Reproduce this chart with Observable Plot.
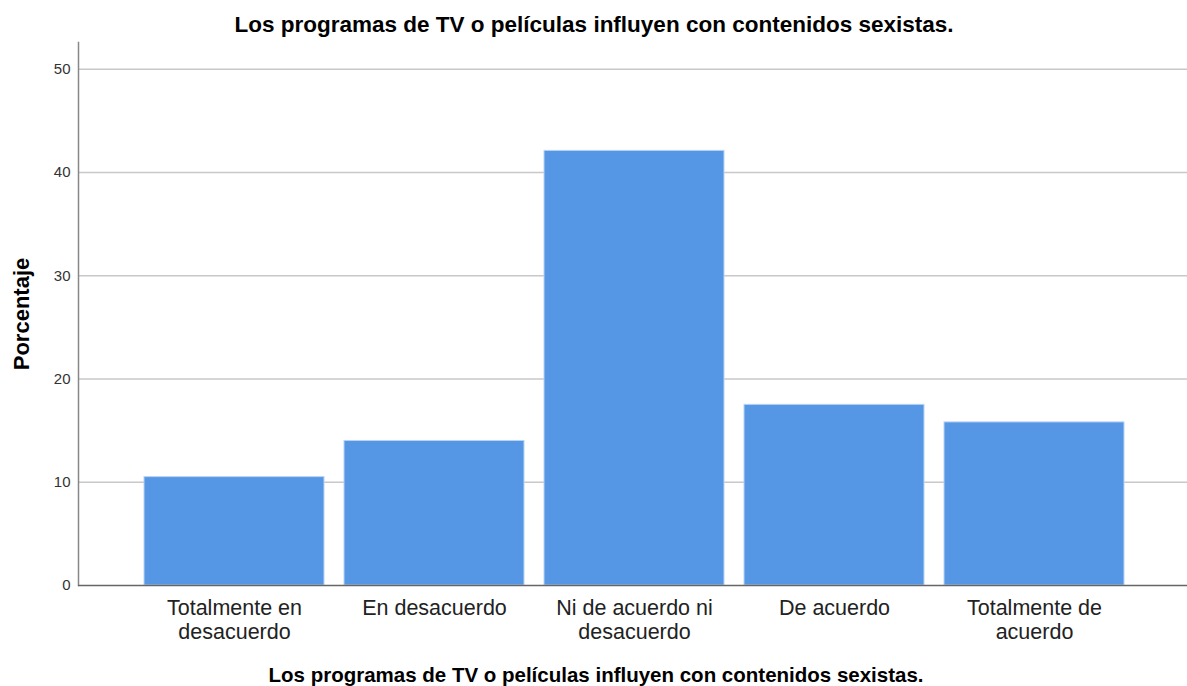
<!DOCTYPE html>
<html>
<head>
<meta charset="utf-8">
<script src="https://cdn.jsdelivr.net/npm/d3@7"></script>
<script src="https://cdn.jsdelivr.net/npm/@observablehq/plot@0.6"></script>
<style>
  html, body { margin: 0; padding: 0; background: #fff; }
  #chart svg { display: block; }
</style>
</head>
<body>
<div id="chart"></div>
<script>
const categories = ["Totalmente en desacuerdo", "En desacuerdo", "Ni de acuerdo ni desacuerdo", "De acuerdo", "Totalmente de acuerdo"];
const tickLabels = ["Totalmente en\ndesacuerdo", "En desacuerdo", "Ni de acuerdo ni\ndesacuerdo", "De acuerdo", "Totalmente de\nacuerdo"];
const percentages = [10.5, 14.0, 42.1, 17.5, 15.8];
const yTicks = [0, 10, 20, 30, 40, 50];
const titleText = "Los programas de TV o películas influyen con contenidos sexistas.";
const xLabelText = "Los programas de TV o películas influyen con contenidos sexistas.";
const yLabelText = "Porcentaje";

const data = categories.map((c, i) => ({category: c, value: percentages[i]}));
const labelOf = new Map(categories.map((c, i) => [c, tickLabels[i]]));

const font = "Arial, 'Liberation Sans', sans-serif";

const chart = Plot.plot({
  width: 1187,
  height: 686,
  marginLeft: 78,
  marginRight: 0,
  marginTop: 42,
  marginBottom: 101,
  style: {fontFamily: font, background: "#fff"},
  x: {type: "band", domain: categories, range: [134, 1134], paddingInner: 0.1, paddingOuter: 0.05, align: 0.5},
  y: {domain: [0, 52.6]},
  marks: [
    Plot.gridY(yTicks.filter(d => d > 0), {stroke: "#c8c8c8", strokeOpacity: 1, strokeWidth: 1.5}),
    Plot.barY(data, {x: "category", y: "value", fill: "#5596e5", stroke: "#b9d3f3", strokeWidth: 1}),
    Plot.frame({anchor: "left", stroke: "#888", strokeWidth: 1.5}),
    Plot.ruleY([0], {stroke: "#666", strokeWidth: 1.5}),
    Plot.axisY({ticks: yTicks, tickSize: 0, tickPadding: 8, fontSize: 15, fill: "#333", label: null}),
    Plot.axisX({tickSize: 0, tickPadding: 12, fontSize: 21.5, fill: "#222", lineHeight: 1.12, label: null,
      tickFormat: d => labelOf.get(d)})
  ]
});

const svg = d3.select(chart);
svg.append("text")
  .attr("x", 594).attr("y", 32)
  .attr("text-anchor", "middle")
  .attr("font-family", font).attr("font-size", 22.5).attr("font-weight", "bold").attr("fill", "#000")
  .text(titleText);
svg.append("text")
  .attr("x", 596).attr("y", 682)
  .attr("text-anchor", "middle")
  .attr("font-family", font).attr("font-size", 20.5).attr("font-weight", "bold").attr("fill", "#000")
  .text(xLabelText);
svg.append("text")
  .attr("transform", "translate(29,314) rotate(-90)")
  .attr("text-anchor", "middle")
  .attr("font-family", font).attr("font-size", 22).attr("font-weight", "bold").attr("fill", "#000")
  .text(yLabelText);

document.getElementById("chart").appendChild(chart);
</script>
</body>
</html>
